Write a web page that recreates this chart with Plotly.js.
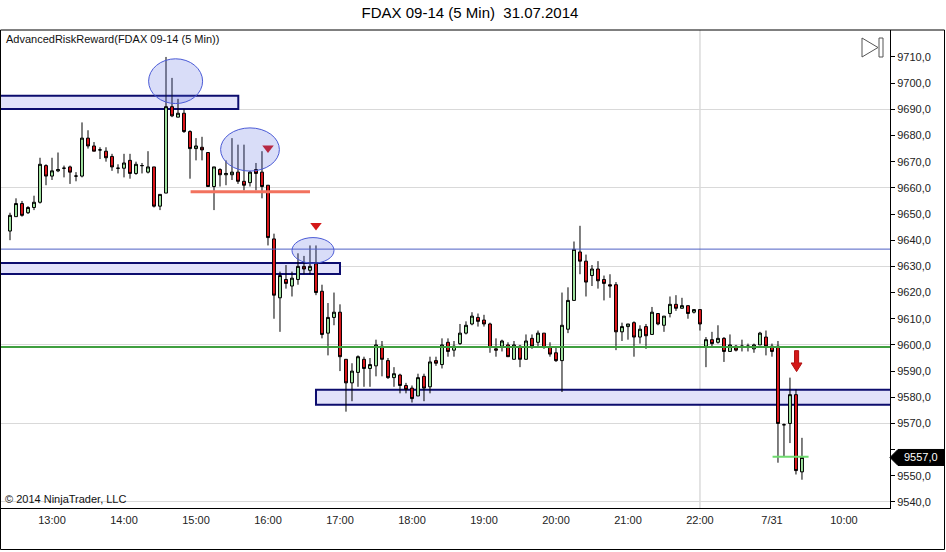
<!DOCTYPE html>
<html><head><meta charset="utf-8">
<script src="https://cdn.plot.ly/plotly-3.0.1.min.js"></script>
<style>html,body{margin:0;padding:0;background:#fff;overflow:hidden}#chart{width:946px;height:552px}</style>
</head><body><div id="chart"></div>
<script>
// ---- data (5-minute FDAX 09-14 bars) ----
const open = [9643.5,9649,9654,9650.5,9652.5,9654.5,9668.5,9664.5,9666.5,9667.5,
9668,9664.5,9664.5,9679,9676,9674.5,9674,9672,9667.5,9667.5,
9670.5,9665.5,9668.5,9666,9668,9653,9658,9691,9687,9688.5,
9681.5,9675,9675.5,9673.5,9660.5,9667,9665,9665,9666,9662.5,
9662,9667,9666,9661,9640.5,9618,9625,9622.5,9625,9630,
9628.5,9631,9620.5,9604.5,9610.5,9612.5,9594.5,9585.5,9589.5,9594.5,
9591,9592,9599.5,9594,9587.5,9588.5,9584.5,9583.5,9580.5,9588,
9584,9594,9592.5,9601,9598,9600.5,9604.5,9608,9610.5,9609.5,
9608,9598.5,9599.5,9600,9594.5,9599.5,9594.5,9602.5,9601,9604.5,
9599,9597,9594,9606,9617,9635.5,9632,9626.5,9629,9625,
9623,9623,9605,9607,9608.5,9603,9607,9604,9612,9607.5,
9612,9615.5,9614,9615,9612.5,9613.5,9599.5,9602,9601,9602.5,
9597.5,9599.5,9599.5,9599.5,9598.5,9600,9603,9599.5,9599.5,9569.5,
9570,9581,9551.5];
const high = [9650.5,9656,9655,9653,9657,9671.5,9669,9671.5,9673.5,9668.5,
9668.5,9666,9685,9682,9677.5,9675.5,9675.5,9673,9669,9673,
9673,9670,9669.5,9674,9668,9657.5,9710,9702,9694,9690,
9682,9679,9679.5,9673.5,9668,9667.5,9670.5,9679,9676.5,9676.5,
9666.5,9669.5,9674,9661,9642.5,9628,9630.5,9628,9635,9634,
9638,9638,9623,9616,9620,9615.5,9594.5,9593,9596,9595.5,
9595,9602,9601.5,9595,9591.5,9589,9585.5,9584.5,9589,9589,
9595.5,9595.5,9602.5,9602.5,9601.5,9608,9609,9612.5,9612,9611.5,
9608.5,9602.5,9602,9601,9601.5,9600,9604,9604,9605.5,9604.5,
9601,9599,9620,9622,9639.5,9645.5,9634.5,9630.5,9632,9626.5,
9627,9624,9608.5,9608,9609,9607.5,9608,9614.5,9612,9611,
9618.5,9619,9618,9615,9613.5,9613.5,9603,9605,9607.5,9603,
9604,9600,9602,9600.5,9600.5,9605,9605.5,9600.5,9601.5,9570,
9587.5,9583,9564.5];
const low = [9640,9649,9649,9650,9651.5,9654,9661,9663,9666,9664,
9661.5,9662.5,9664,9675,9674,9671,9670,9666.5,9665.5,9664,
9663.5,9665,9665.5,9665.5,9652.5,9651.5,9658,9687,9687,9681,
9663.5,9670.5,9670.5,9660.5,9651.5,9660.5,9661,9663,9661.5,9659,
9660.5,9659,9656,9638,9610,9605,9621.5,9618.5,9623,9627,
9627,9619,9602.5,9596,9607.5,9590,9574.5,9578.5,9584,9584,
9584,9588,9588,9587,9584,9581.5,9581.5,9578,9580.5,9578.5,
9581.5,9592,9591,9595.5,9595.5,9600,9604,9607.5,9607,9607,
9597,9595.5,9597.5,9595.5,9594.5,9591.5,9594.5,9598.5,9599.5,9598.5,
9595.5,9593.5,9582,9604.5,9617,9627,9618.5,9622.5,9621.5,9617,
9618,9598,9601.5,9602,9595.5,9600.5,9598.5,9604,9607.5,9605,
9610.5,9613,9614,9610,9612,9605.5,9591.5,9599.5,9600.5,9593.5,
9597.5,9597.5,9597.5,9597.5,9597,9600,9596,9595.5,9555,9557.5,
9562.5,9550.5,9548.5];
const close = [9649.5,9654,9649.5,9652.5,9654.5,9669,9664.5,9666.5,9667,9667.5,
9666,9664.5,9679,9676,9674,9674.5,9671.5,9668,9667.5,9669.5,
9665.5,9669,9668.5,9668,9653,9657.5,9691,9687.5,9688.5,9681.5,
9675,9676,9674.5,9660.5,9668,9665,9665.5,9666,9662.5,9661,
9666,9665.5,9660.5,9641,9619,9626.5,9623.5,9625.5,9630,9629,
9630,9620,9604,9610.5,9612.5,9595.5,9585.5,9590,9595.5,9591,
9592.5,9600,9594.5,9587.5,9589,9584.5,9583,9579.5,9587.5,9583.5,
9593.5,9593,9600,9597.5,9599.5,9604.5,9607.5,9611,9609,9608,
9599,9598,9601.5,9595.5,9600,9594.5,9601.5,9599.5,9604.5,9599,
9596.5,9594,9607.5,9617,9636.5,9632,9624,9629,9624.5,9623.5,
9622.5,9605,9607,9608,9603,9606,9603.5,9612.5,9608,9611,
9615.5,9614,9615,9612,9613.5,9608,9602,9600.5,9602.5,9597.5,
9600,9598,9599.5,9599.5,9600,9604.5,9599.5,9597.5,9570,9569.5,
9581,9552,9557];
const tickLabels = ['13:00','14:00','15:00','16:00','17:00','18:00','19:00','20:00','21:00','22:00','7/31','10:00'];
const tickBars = [7,19,31,43,55,67,79,91,103,115,127,139];
const priceTicks = [9540,9550,9560,9570,9580,9590,9600,9610,9620,9630,9640,9650,9660,9670,9680,9690,9700,9710];
const gridLevels = [9540,9570,9600,9630,9660,9690];
const sessionBreakBar = 115;
const signalBars = [43, 51];
const signalPrices = [9675.2, 9645.6];
const zoneTop = [9695.2, 9631.3, 9582.9];
const zoneBottom = [9690.1, 9627.1, 9577.1];
const zoneStart = [-3, -3, 51];
const zoneEnd = [38.05, 55, 160];
const ellipseX0 = [23.1, 35.1, 47.0];
const ellipseX1 = [32.1, 44.9, 54.0];
const ellipseTop = [9709.3, 9682.9, 9641.0];
const ellipseBottom = [9692.2, 9666.4, 9631.2];
const supportLevel = 9599.2;
const resistanceLevel = 9636.6;
const stopLevel = 9658.5;
const stopStart = 30.1, stopEnd = 50.0;
const targetLevel = 9557.3;
const targetStart = 127.1, targetEnd = 133.1;
const arrowBar = 131.1;
const arrowTop = 9597.8, arrowNeck = 9593.1, arrowTip = 9589.8;

// ---- geometry helpers ----
const W = 946, H = 552;
const M = {l:1, r:56, t:30, b:44};
const PL = M.l, PR = W - M.r, PT = M.t, PB = H - M.b;
const yMin = 9537.7, yMax = 9720.3;
const xMin = -1.5, xMax = 146.67;
const px = x => (x - PL) / (PR - PL);
const py = y => (PB - y) / (PB - PT);
const pv = v => (v - yMin) / (yMax - yMin);

const bars = open.map((_, i) => i);
const FONT = 'Liberation Sans, Arial, sans-serif';
const lc = close[close.length - 1];
// the last-price marker covers the label of the level it sits on
const priceTickText = priceTicks.map(v => Math.abs(v - lc) < 4 ? '' : v.toFixed(1).replace('.', ','));

const traces = [
  {
    type: 'candlestick', x: bars, open: open, high: high, low: low, close: close,
    increasing: {line: {color: '#000', width: 1}, fillcolor: '#A2E6A2'},
    decreasing: {line: {color: '#000', width: 1}, fillcolor: '#E0161B'},
    whiskerwidth: 0, hoverinfo: 'none', showlegend: false
  },
  {
    type: 'scatter', mode: 'markers', x: signalBars, y: signalPrices,
    marker: {symbol: 'triangle-down', size: 10, color: '#D41818', line: {width: 0}},
    hoverinfo: 'none', showlegend: false
  },
  {type:'scatter', x:[], y:[], yaxis:'y2', hoverinfo:'none', showlegend:false}
];

const shapes = [];
shapes.push({type:'line', xref:'x', yref:'paper', x0:sessionBreakBar, x1:sessionBreakBar, y0:0, y1:1,
  line:{color:'#C8C8C8', width:1}, layer:'below'});
for (let i = 0; i < zoneTop.length; i++) {
  shapes.push({type:'rect', xref:'x', yref:'y', x0:zoneStart[i], x1:zoneEnd[i], y0:zoneBottom[i], y1:zoneTop[i],
    fillcolor:'#E2E2FA', line:{color:'#0C0C6E', width:2}, layer:'between'});
}
shapes.push({type:'line', xref:'paper', yref:'y', x0:0, x1:1, y0:resistanceLevel, y1:resistanceLevel,
  line:{color:'#4D5FC4', width:1}, layer:'above'});
shapes.push({type:'line', xref:'paper', yref:'y', x0:0, x1:1, y0:supportLevel, y1:supportLevel,
  line:{color:'#3F9F3F', width:2}, layer:'above'});
shapes.push({type:'line', xref:'x', yref:'y', x0:stopStart, x1:stopEnd, y0:stopLevel, y1:stopLevel,
  line:{color:'#F2725E', width:3}, layer:'above'});
shapes.push({type:'line', xref:'x', yref:'y', x0:targetStart, x1:targetEnd, y0:targetLevel, y1:targetLevel,
  line:{color:'#6EDB6E', width:2}, layer:'above'});
for (let i = 0; i < ellipseTop.length; i++) {
  shapes.push({type:'circle', xref:'x', yref:'y', x0:ellipseX0[i], x1:ellipseX1[i], y0:ellipseBottom[i], y1:ellipseTop[i],
    fillcolor:'rgba(80,100,225,0.22)', line:{color:'#4A5AD6', width:1}, layer:'above'});
}
const sw = 0.34, hw = 0.9;
shapes.push({type:'path', xref:'x', yref:'y', layer:'above',
  path:`M ${arrowBar-sw},${arrowTop} L ${arrowBar+sw},${arrowTop} L ${arrowBar+sw},${arrowNeck} L ${arrowBar+hw},${arrowNeck} L ${arrowBar},${arrowTip} L ${arrowBar-hw},${arrowNeck} L ${arrowBar-sw},${arrowNeck} Z`,
  fillcolor:'#D41818', line:{color:'#B01010', width:1}});
shapes.push({type:'rect', xref:'paper', yref:'paper', x0:px(0.5), x1:px(944.5), y0:py(549.5), y1:py(30),
  line:{color:'#000', width:1}, fillcolor:'rgba(0,0,0,0)', layer:'above'});
const hh = 8 / (PB - PT);
shapes.push({type:'path', xref:'paper', yref:'paper', layer:'above',
  path:`M ${px(890)},${pv(lc)} L ${px(898)},${pv(lc)+hh} L ${px(944)},${pv(lc)+hh} L ${px(944)},${pv(lc)-hh} L ${px(898)},${pv(lc)-hh} Z`,
  fillcolor:'#000', line:{color:'#000', width:1}});
shapes.push({type:'path', xref:'paper', yref:'paper', layer:'above',
  path:`M ${px(862)},${py(38)} L ${px(862)},${py(57)} L ${px(878)},${py(47.5)} Z`,
  fillcolor:'rgba(0,0,0,0)', line:{color:'#555', width:1}});
shapes.push({type:'rect', xref:'paper', yref:'paper', layer:'above',
  x0:px(879), x1:px(883), y0:py(57), y1:py(38), fillcolor:'rgba(0,0,0,0)', line:{color:'#555', width:1}});

const annotations = [
  {xref:'paper', yref:'paper', x:px(4), y:py(39), xanchor:'left', yanchor:'middle', showarrow:false,
   text:'AdvancedRiskReward(FDAX 09-14 (5 Min))', font:{family:FONT, size:11, color:'#111'}},
  {xref:'paper', yref:'paper', x:px(3), y:py(499), xanchor:'left', yanchor:'middle', showarrow:false,
   text:'© 2014 NinjaTrader, LLC', font:{family:FONT, size:11, color:'#111'}},
  {xref:'paper', yref:'paper', x:px(921), y:pv(lc), xanchor:'center', yanchor:'middle', showarrow:false,
   text: lc.toFixed(1).replace('.', ','), font:{family:FONT, size:11, color:'#fff'}}
];

const layout = {
  width: W, height: H, margin: M,
  paper_bgcolor:'#fff', plot_bgcolor:'#fff',
  separators: ',.',
  showlegend: false,
  dragmode: false,
  title: {text:'FDAX 09-14 (5 Min)\u00a0 31.07.2014', font:{family:FONT, size:15, color:'#000'},
    x: 470/W, xref:'container', xanchor:'center', y: 1 - 13/H, yref:'container', yanchor:'middle'},
  xaxis: {range:[xMin, xMax], tickvals: tickBars, ticktext: tickLabels, ticks:'', showgrid:false, zeroline:false,
    showline:true, linecolor:'#000', linewidth:1, rangeslider:{visible:false}, ticklabelstandoff:2,
    tickfont:{family:FONT, size:11, color:'#222'}, fixedrange:true},
  yaxis: {side:'right', range:[yMin, yMax], tickmode:'array', tickvals: priceTicks, ticktext: priceTickText,
    ticks:'outside', ticklen:4, tickcolor:'#000', showline:true, linecolor:'#000', linewidth:1,
    showgrid:false, zeroline:false, tickfont:{family:FONT, size:11, color:'#222'}, fixedrange:true},
  yaxis2: {overlaying:'y', side:'right', range:[yMin, yMax], tickmode:'array', tickvals: gridLevels,
    showticklabels:false, ticks:'', showgrid:true, gridcolor:'#D9D9D9', gridwidth:1, zeroline:false,
    showline:false, fixedrange:true},
  shapes: shapes,
  annotations: annotations
};

Plotly.newPlot('chart', traces, layout, {displayModeBar:false, staticPlot:true});
</script></body></html>
